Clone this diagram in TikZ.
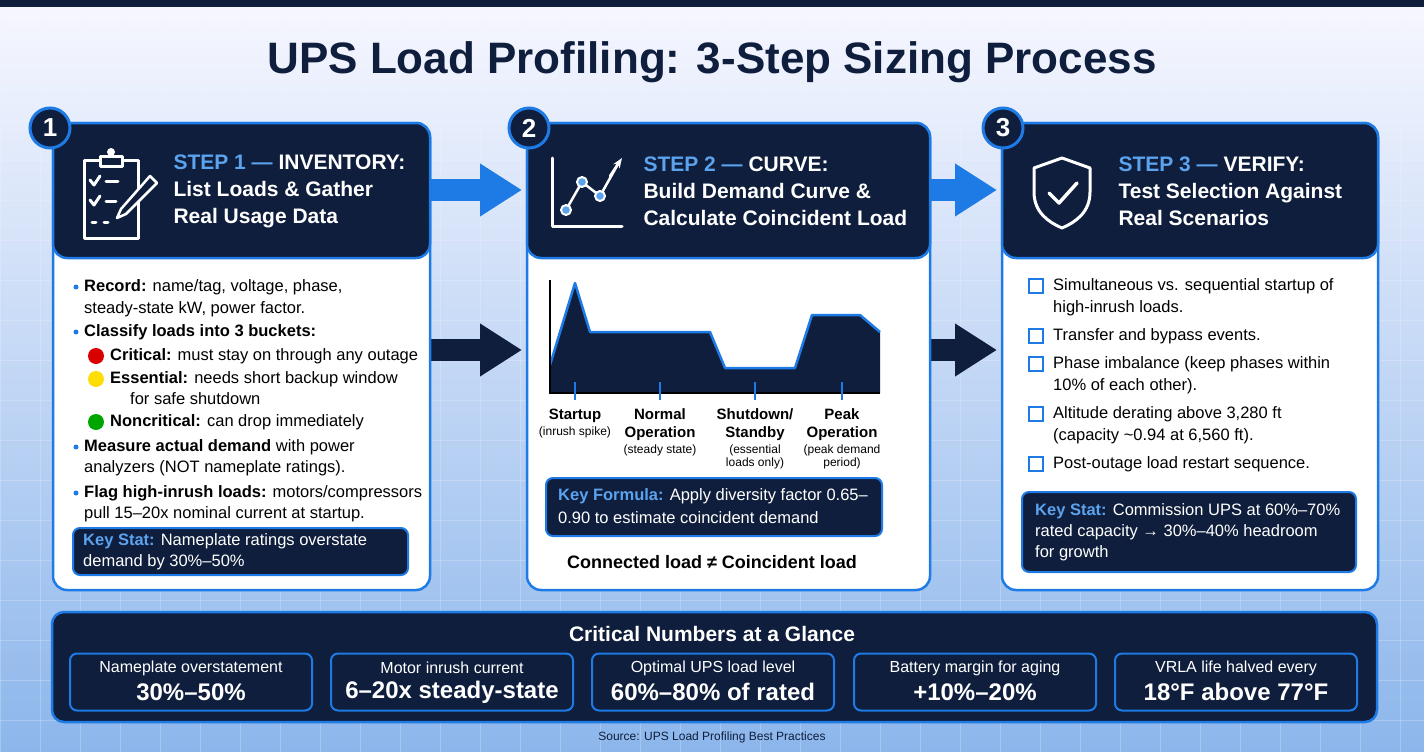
\documentclass[tikz,border=0pt]{standalone}
\usepackage{fontspec}
\setmainfont{Liberation Sans}
\usetikzlibrary{arrows.meta}
\definecolor{navy}{HTML}{0F1E3C}
\definecolor{bblue}{HTML}{1E7BE6}
\definecolor{lblue}{HTML}{5BA3EE}
\tikzset{
  card/.style={draw=bblue, line width=2.5pt, rounded corners=14pt, fill=white},
  head/.style={draw=bblue, line width=2.5pt, rounded corners=14pt, fill=navy},
  num/.style={circle, draw=bblue, line width=3pt, fill=navy, text=white, minimum size=40pt, font=\bfseries\fontsize{26}{26}\selectfont},
  htxt/.style={anchor=west, text=white, align=left, font=\bfseries\fontsize{21}{27}\selectfont},
  body/.style={anchor=west, text=black, font=\fontsize{16.5}{20}\selectfont, inner sep=0pt},
  stat/.style={draw=bblue, line width=2pt, rounded corners=7pt, fill=navy},
  glance/.style={draw=bblue, line width=2pt, rounded corners=7pt, fill=navy, minimum width=242pt, minimum height=57pt},
  gtxt/.style={text=white, align=center, font=\fontsize{16}{19}\selectfont},
  bigarrow/.style={-{Triangle[length=42pt,width=50pt]}, line width=22pt},
  tick/.style={bblue, line width=2.5pt},
  lab/.style={align=center, font=\bfseries\fontsize{15}{18}\selectfont},
  sub/.style={align=center, font=\fontsize{12}{13}\selectfont},
  icon/.style={white, line width=3pt, line cap=round, line join=round},
}
\begin{document}
\begin{tikzpicture}[x=1pt,y=-1pt]
\useasboundingbox (0,0) rectangle (1424,752);
% background
\shade[top color=blue!3, bottom color={rgb,255:red,140;green,182;blue,235}] (0,0) rectangle (1424,752);
\foreach \gx in {0,40,...,1424} \draw[white!70!blue!15, opacity=0.25] (\gx,0) -- (\gx,752);
\foreach \gy in {0,40,...,752} \draw[white!70!blue!15, opacity=0.25] (0,\gy) -- (1424,\gy);
\fill[navy] (0,0) rectangle (1424,7);
\node[text=navy, font=\bfseries\fontsize{44}{44}\selectfont] (title) at (712,62) {UPS Load Profiling: 3-Step Sizing Process};

% arrows between cards
\draw[bigarrow, bblue] (425,190) -- (522,190);
\draw[bigarrow, navy] (425,350) -- (522,350);
\draw[bigarrow, bblue] (928,190) -- (997,190);
\draw[bigarrow, navy] (928,350) -- (997,350);

% card 1
\draw[card] (53,123) rectangle (430,590);
\draw[head] (53,123) rectangle (430,258);
\node[num] (n1) at (50,128) {1};
\begin{scope}[icon]
  \draw (84,160) rectangle (138,238);
  \draw[fill=navy] (100,156) rectangle (122,166);
  \fill[white] (111,152) circle (4);
  \draw (90,180) -- (94,185) -- (100,176); \draw (106,181) -- (118,181);
  \draw (90,200) -- (94,205) -- (100,196); \draw (106,201) -- (116,201);
  \draw (92,222) -- (96,222); \draw (104,222) -- (108,222);
  \draw[fill=navy, line width=2.5pt] (150,176) -- (157,183) -- (126,214) -- (117,218) -- (121,209) -- cycle;
\end{scope}
\node[htxt] (h1) at (170,191) {\textcolor{lblue}{STEP 1 —} INVENTORY:\\List Loads \& Gather\\Real Usage Data};
\fill[bblue] (76,287) circle (2.5);
\node[body] (b1a) at (84,287) {\textbf{Record:} name/tag, voltage, phase,};
\node[body] (b1b) at (84,309) {steady-state kW, power factor.};
\fill[bblue] (76,332) circle (2.5);
\node[body] (b1c) at (84,332) {\textbf{Classify loads into 3 buckets:}};
\fill[red!85!black] (96,356) circle (8);
\node[body] (b1d) at (110,356) {\textbf{Critical:} must stay on through any outage};
\fill[yellow!80!orange] (96,379) circle (8);
\node[body] (b1e) at (110,379) {\textbf{Essential:} needs short backup window};
\node[body] (b1f) at (130,399) {for safe shutdown};
\fill[green!65!black] (96,422) circle (8);
\node[body] (b1g) at (110,422) {\textbf{Noncritical:} can drop immediately};
\fill[bblue] (76,447) circle (2.5);
\node[body] (b1h) at (84,447) {\textbf{Measure actual demand} with power};
\node[body] (b1i) at (84,468) {analyzers (NOT nameplate ratings).};
\fill[bblue] (76,493) circle (2.5);
\node[body] (b1j) at (84,493) {\textbf{Flag high-inrush loads:} motors/compressors};
\node[body] (b1k) at (84,514) {pull 15–20x nominal current at startup.};
\draw[stat] (73,528) rectangle (408,575);
\node[body, text=white] (s1a) at (83,541) {\textbf{\textcolor{lblue}{Key Stat:}} Nameplate ratings overstate};
\node[body, text=white] (s1b) at (83,562) {demand by 30\%–50\%};

% card 2
\draw[card] (527,123) rectangle (930,590);
\draw[head] (527,123) rectangle (930,258);
\node[num] (n2) at (529,128) {2};
\begin{scope}[icon]
  \draw (552,158) -- (552,226) -- (622,226);
  \draw[line width=2.5pt] (566,210) -- (582,182) -- (600,196) -- (618,164);
  \draw[-{Stealth[length=10pt]}, line width=2.5pt] (610,176) -- (622,158);
  \foreach \p in {(566,210),(582,182),(600,196)} \draw[fill=lblue, line width=2pt] \p circle (5);
\end{scope}
\node[htxt] (h2) at (640,191) {\textcolor{lblue}{STEP 2 —} CURVE:\\Build Demand Curve \&\\Calculate Coincident Load};
\fill[navy] (550,365) -- (575,283) -- (590,332) -- (710,332) -- (725,368) -- (795,368) -- (812,315) -- (860,315) -- (880,332) -- (880,393) -- (550,393) -- cycle;
\draw[bblue, line width=2.5pt, line join=round] (550,365) -- (575,283) -- (590,332) -- (710,332) -- (725,368) -- (795,368) -- (812,315) -- (860,315) -- (880,332);
\draw[line width=1.5pt] (550,280) -- (550,393) -- (880,393);
\foreach \tx in {575,660,755,842} \draw[tick] (\tx,382) -- (\tx,400);
\node[lab, anchor=north] (l1) at (575,405) {Startup};
\node[sub, anchor=north] (l1s) at (575,423) {(inrush spike)};
\node[lab, anchor=north] (l2) at (660,405) {Normal\\Operation};
\node[sub, anchor=north] (l2s) at (660,441) {(steady state)};
\node[lab, anchor=north] (l3) at (755,405) {Shutdown/\\Standby};
\node[sub, anchor=north] (l3s) at (755,441) {(essential\\loads only)};
\node[lab, anchor=north] (l4) at (842,405) {Peak\\Operation};
\node[sub, anchor=north] (l4s) at (842,441) {(peak demand\\period)};
\draw[stat] (546,478) rectangle (882,536);
\node[body, text=white] (f2a) at (558,496) {\textbf{\textcolor{lblue}{Key Formula:}} Apply diversity factor 0.65–};
\node[body, text=white] (f2b) at (558,518) {0.90 to estimate coincident demand};
\node[font=\bfseries\fontsize{18}{18}\selectfont] (c2) at (712,562) {Connected load ≠ Coincident load};

% card 3
\draw[card] (1002,123) rectangle (1378,590);
\draw[head] (1002,123) rectangle (1378,258);
\node[num] (n3) at (1003,128) {3};
\begin{scope}[icon]
  \draw (1062,158) -- (1090,168) -- (1090,192) .. controls (1090,212) and (1076,222) .. (1062,228) .. controls (1048,222) and (1034,212) .. (1034,192) -- (1034,168) -- cycle;
  \draw[line width=3.5pt] (1049,193) -- (1059,203) -- (1077,183);
\end{scope}
\node[htxt] (h3) at (1115,191) {\textcolor{lblue}{STEP 3 —} VERIFY:\\Test Selection Against\\Real Scenarios};
\foreach \cy in {286,336,364,414,464} \draw[bblue, line width=2pt] (1029,\cy-7) rectangle (1043,\cy+7);
\node[body] (c3a) at (1053,286) {Simultaneous vs. sequential startup of};
\node[body] (c3b) at (1053,308) {high-inrush loads.};
\node[body] (c3c) at (1053,336) {Transfer and bypass events.};
\node[body] (c3d) at (1053,364) {Phase imbalance (keep phases within};
\node[body] (c3e) at (1053,386) {10\% of each other).};
\node[body] (c3f) at (1053,414) {Altitude derating above 3,280 ft};
\node[body] (c3g) at (1053,436) {(capacity \textasciitilde0.94 at 6,560 ft).};
\node[body] (c3h) at (1053,464) {Post-outage load restart sequence.};
\draw[stat] (1022,492) rectangle (1356,572);
\node[body, text=white] (s3a) at (1035,511) {\textbf{\textcolor{lblue}{Key Stat:}} Commission UPS at 60\%–70\%};
\node[body, text=white] (s3b) at (1035,532) {rated capacity → 30\%–40\% headroom};
\node[body, text=white] (s3c) at (1035,553) {for growth};

% bottom panel
\draw[draw=bblue, line width=2.5pt, rounded corners=12pt, fill=navy] (52,612) rectangle (1377,722);
\node[text=white, font=\bfseries\fontsize{21}{21}\selectfont] (gt) at (712,634) {Critical Numbers at a Glance};
\foreach \i/\cx/\a/\b in {1/191/Nameplate overstatement/30\%–50\%, 2/452/Motor inrush current/6–20x steady-state, 3/713/Optimal UPS load level/60\%–80\% of rated, 4/975/Battery margin for aging/+10\%–20\%, 5/1236/VRLA life halved every/18°F above 77°F} {
  \node[glance] (g\i) at (\cx,682) {};
  \node[gtxt] at (\cx,668) {\a};
  \node[gtxt, font=\bfseries\fontsize{24}{24}\selectfont] at (\cx,692) {\b};
}
\node[font=\fontsize{12}{12}\selectfont, text=navy] (src) at (712,737) {Source: UPS Load Profiling Best Practices};
\end{tikzpicture}
\end{document}
